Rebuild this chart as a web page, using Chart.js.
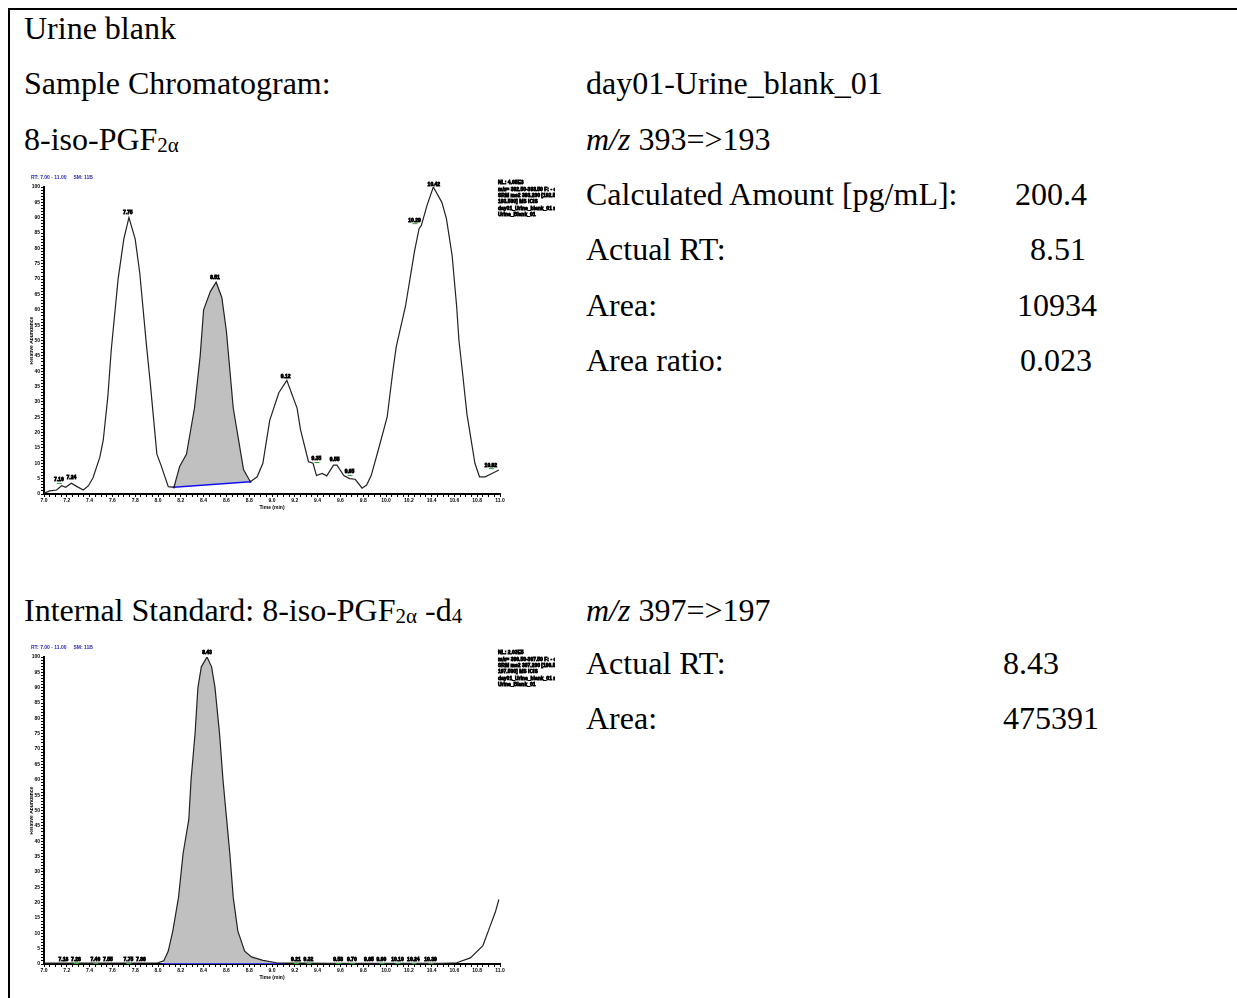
<!DOCTYPE html>
<html lang="en">
<head>
    <meta charset="UTF-8">
    <title>Urine blank - 8-iso-PGF2a</title>
    <script src="https://cdn.jsdelivr.net/npm/chart.js"></script>
    <style>
        body {
            margin: 0;
            width: 1237px;
            height: 998px;
            overflow: hidden;
            background: #fff;
            position: relative;
            font-family: 'Liberation Serif', 'Times New Roman', serif;
        }
        .frame {
            position: absolute;
            left: 8px;
            top: 8px;
            width: 1300px;
            height: 1100px;
            border: 2px solid #000;
        }
        .t {
            position: absolute;
            font-size: 32px;
            line-height: 36px;
            white-space: nowrap;
            color: #000;
        }
        .t sub {
            font-size: 21px;
            vertical-align: -2px;
            line-height: 0;
        }
        canvas {
            position: absolute;
        }
    </style>
</head>
<body>
    <div class="frame"></div>

    <div class="t" style="left:24px; top:10px">Urine blank</div>
    <div class="t" style="left:24px; top:65px">Sample Chromatogram:</div>
    <div class="t" style="left:586px; top:65px">day01-Urine_blank_01</div>
    <div class="t" style="left:24px; top:121px">8-iso-PGF<sub>2α</sub></div>
    <div class="t" style="left:586px; top:121px"><i>m/z</i> 393=&gt;193</div>
    <div class="t" style="left:586px; top:176px">Calculated Amount [pg/mL]:</div>
    <div class="t" style="left:1015px; top:176px">200.4</div>
    <div class="t" style="left:586px; top:231px">Actual RT:</div>
    <div class="t" style="left:1030px; top:231px">8.51</div>
    <div class="t" style="left:586px; top:287px">Area:</div>
    <div class="t" style="left:1017px; top:287px">10934</div>
    <div class="t" style="left:586px; top:342px">Area ratio:</div>
    <div class="t" style="left:1020px; top:342px">0.023</div>

    <div class="t" style="left:24px; top:592px">Internal Standard: 8-iso-PGF<sub>2α</sub> -d<sub>4</sub></div>
    <div class="t" style="left:586px; top:592px"><i>m/z</i> 397=&gt;197</div>
    <div class="t" style="left:586px; top:645px">Actual RT:</div>
    <div class="t" style="left:1003px; top:645px">8.43</div>
    <div class="t" style="left:586px; top:700px">Area:</div>
    <div class="t" style="left:1003px; top:700px">475391</div>

    <canvas id="sampleChart" width="525" height="345" style="left:30px; top:172px"></canvas>
    <canvas id="istdChart" width="525" height="345" style="left:30px; top:642px"></canvas>

    <script>
        // Sample trace, m/z 393=>193 (time in min, relative abundance in %)
        const sampleTime = [7.00, 7.05, 7.11, 7.155, 7.19, 7.24, 7.29, 7.345, 7.39, 7.43, 7.49, 7.52, 7.56, 7.59,
            7.65, 7.70, 7.745, 7.80, 7.84, 7.90, 7.93, 7.99, 8.03, 8.09, 8.14, 8.19, 8.25, 8.32, 8.37, 8.40,
            8.46, 8.51, 8.56, 8.60, 8.66, 8.75, 8.81, 8.87, 8.92, 8.98, 9.06, 9.13, 9.22, 9.25, 9.32, 9.36,
            9.39, 9.44, 9.48, 9.54, 9.57, 9.63, 9.68, 9.73, 9.79, 9.83, 9.87, 9.93, 10.01, 10.06, 10.09, 10.17,
            10.21, 10.25, 10.29, 10.31, 10.36, 10.415, 10.49, 10.53, 10.58, 10.62, 10.64, 10.67, 10.71, 10.78,
            10.82, 10.87, 10.93, 10.99];
        const sampleAbund = [0.3, 1.0, 1.3, 2.7, 2.2, 3.5, 2.4, 1.3, 2.7, 5.3, 12, 17.6, 31.7, 47,
            70, 83, 90, 83, 72, 48, 37, 13, 9, 2.4, 2.2, 9, 13, 28, 45, 60,
            66, 69, 64, 53, 28, 8, 4.0, 5.6, 10, 24, 33, 37, 28, 21, 10.5, 10,
            6, 6.7, 5.9, 9.4, 9.4, 6, 5, 4.8, 1.9, 2.9, 6, 14, 25, 40, 48, 61,
            70, 79, 86.4, 87.5, 94, 100, 95, 89.7, 77.7, 61, 50, 40, 26, 10,
            5.6, 5.6, 6.7, 7.8];
        const sampleIntegration = [8.14, 8.81];      // peak start / end (min)
        const sampleBaseline = [2.2, 4.0];           // baseline level at start / end (%)
        const samplePeakTimes = [7.13, 7.24, 7.735, 8.50, 9.12, 9.39, 9.55, 9.68, 10.25, 10.42, 10.92];
        const samplePeakLevels = [4.6, 5.3, 91.6, 70.4, 38.2, 11.4, 11.1, 7.2, 89.2, 100.9, 9.4];
        const samplePeakText = ['7.16', '7.24', '7.75', '8.51', '9.12', '9.35', '9.55', '9.65', '10.29', '10.42', '10.92'];
        const samplePeakTick = [true, false, false, false, false, true, false, true, true, false, true];
        const sampleInfo = ['NL: 4.05E3', 'm/z= 392.50-393.50 F: - c ESI', 'SRM ms2 393.200 [192.500-', '193.500] MS ICIS',
            'day01_Urine_blank_01 ms2', 'Urine_Blank_01'];

        // Internal standard trace, m/z 397=>197
        const istdTime = [7.00, 7.50, 8.00, 8.05, 8.09, 8.13, 8.18, 8.22, 8.27, 8.29, 8.325, 8.35, 8.38, 8.43,
            8.47, 8.50, 8.54, 8.57, 8.60, 8.63, 8.66, 8.70, 8.76, 8.82, 8.92, 9.04, 9.50, 10.00, 10.50, 10.62,
            10.74, 10.85, 10.91, 10.96, 10.99];
        const istdAbund = [0.3, 0.3, 0.4, 1, 4.2, 10.8, 21.7, 36, 47, 60, 75, 90, 96.8, 100,
            96.8, 90, 75, 60, 48, 36, 21.7, 10.8, 4.2, 2.3, 1.2, 0.4, 0.2, 0.2, 0.2, 0.4,
            2, 6, 12, 17, 21];
        const istdIntegration = [8.04, 9.10];
        const istdBaseline = [0, 0];
        const istdPeakTimes = [8.43, 7.17, 7.28, 7.45, 7.56, 7.74, 7.85, 9.21, 9.32, 9.58, 9.70, 9.85, 9.96, 10.10, 10.24, 10.39];
        const istdPeakLevels = [101.3, 1.3, 1.3, 1.3, 1.3, 1.3, 1.3, 1.3, 1.3, 1.3, 1.3, 1.3, 1.3, 1.3, 1.3, 1.3];
        const istdPeakText = ['8.43', '7.18', '7.28', '7.46', '7.55', '7.75', '7.86', '9.21', '9.32', '9.58', '9.70',
            '9.85', '9.96', '10.10', '10.24', '10.39'];
        const istdPeakTick = [false, false, true, true, false, true, false, true, true, true, true, false, true, true, true, true];
        const istdInfo = ['NL: 2.03E5', 'm/z= 396.50-397.50 F: - c ESI', 'SRM ms2 397.200 [196.500-', '197.500] MS ICIS',
            'day01_Urine_blank_01 ms2', 'Urine_Blank_01'];

        const headerText = 'RT: 7.00 - 11.00     SM: 11B';
        const xTitle = 'Time (min)';
        const yTitle = 'Relative Abundance';

        // tiny annotation text, like the instrument printout
        const annotPlugin = {
            id: 'annot',
            afterDraw(chart, args, opts) {
                const { ctx, scales: { x, y }, chartArea } = chart;
                ctx.save();
                ctx.font = 'bold 5px "Liberation Sans", Arial';
                ctx.fillStyle = '#2b2bb0';
                ctx.textBaseline = 'middle';
                ctx.textAlign = 'left';
                ctx.fillText(headerText, 1, 6);

                // heavy black text, the printout renders these as solid blobs
                ctx.fillStyle = '#000';
                ctx.strokeStyle = '#000';
                ctx.lineWidth = 0.8;
                opts.info.forEach((line, i) => {
                    ctx.strokeText(line, chartArea.right - 2, 11 + i * 6.3);
                    ctx.fillText(line, chartArea.right - 2, 11 + i * 6.3);
                });

                ctx.textAlign = 'center';
                opts.times.forEach((t, i) => {
                    const px = x.getPixelForValue(t);
                    const py = y.getPixelForValue(opts.levels[i]);
                    ctx.fillStyle = '#000';
                    ctx.strokeStyle = '#000';
                    ctx.lineWidth = 0.8;
                    ctx.strokeText(opts.text[i], px, py);
                    ctx.fillText(opts.text[i], px, py);
                    if (opts.tick[i]) {
                        ctx.strokeStyle = '#22aa22';
                        ctx.lineWidth = 1;
                        ctx.beginPath();
                        ctx.moveTo(px - 2, py + 3.5);
                        ctx.lineTo(px + 3, py + 3.5);
                        ctx.stroke();
                    }
                });

                ctx.fillStyle = '#000';
                ctx.fillText(xTitle, (chartArea.left + chartArea.right) / 2, chartArea.bottom + 14);
                ctx.translate(2, (chartArea.top + chartArea.bottom) / 2);
                ctx.rotate(-Math.PI / 2);
                ctx.fillText(yTitle, 0, 0);
                ctx.restore();
            }
        };

        function makeChart(id, time, abund, integ, base, peaks) {
            const trace = time.map((t, i) => ({ x: t, y: abund[i] }));
            const area = trace.filter(p => p.x >= integ[0] && p.x <= integ[1]);
            const baseline = integ.map((t, i) => ({ x: t, y: base[i] }));

            return new Chart(document.getElementById(id), {
                type: 'line',
                data: {
                    datasets: [
                        {
                            data: trace,
                            borderColor: '#222',
                            borderWidth: 1.2,
                            pointRadius: 0,
                            tension: 0,
                            fill: false,
                            order: 0
                        },
                        {
                            data: baseline,
                            borderColor: '#1010ff',
                            borderWidth: 1.5,
                            pointRadius: 1.5,
                            pointStyle: 'rect',
                            pointBackgroundColor: '#1010ff',
                            pointBorderWidth: 0,
                            fill: false,
                            order: 1
                        },
                        {
                            data: area,
                            borderWidth: 0,
                            pointRadius: 0,
                            tension: 0,
                            backgroundColor: '#c0c0c0',
                            fill: 1,
                            order: 2
                        }
                    ]
                },
                options: {
                    responsive: false,
                    animation: false,
                    devicePixelRatio: 1,
                    layout: { padding: { top: 15, right: 55, left: 0, bottom: 0 } },
                    plugins: {
                        legend: { display: false },
                        tooltip: { enabled: false },
                        annot: peaks
                    },
                    scales: {
                        x: {
                            type: 'linear',
                            min: 7,
                            max: 11,
                            afterFit: s => { s.height = 23; },
                            border: { color: '#000', width: 2 },
                            grid: { drawOnChartArea: false, tickLength: 3, color: '#000' },
                            ticks: {
                                stepSize: 0.05,
                                autoSkip: false,
                                maxRotation: 0,
                                padding: 1,
                                color: '#000',
                                font: { size: 5, weight: 'bold', family: 'Liberation Sans' },
                                callback: v => (Math.round(v * 100) % 20 === 0 ? v.toFixed(1) : '')
                            }
                        },
                        y: {
                            min: 0,
                            max: 100,
                            afterFit: s => { s.width = 14; },
                            border: { color: '#000', width: 2 },
                            grid: { drawOnChartArea: false, tickLength: 3, color: '#000' },
                            ticks: {
                                stepSize: 1,
                                autoSkip: false,
                                padding: 1,
                                color: '#000',
                                font: { size: 5, weight: 'bold', family: 'Liberation Sans' },
                                callback: v => (v % 5 === 0 ? v : '')
                            }
                        }
                    }
                },
                plugins: [annotPlugin]
            });
        }

        makeChart('sampleChart', sampleTime, sampleAbund, sampleIntegration, sampleBaseline,
            { times: samplePeakTimes, levels: samplePeakLevels, text: samplePeakText, tick: samplePeakTick, info: sampleInfo });
        makeChart('istdChart', istdTime, istdAbund, istdIntegration, istdBaseline,
            { times: istdPeakTimes, levels: istdPeakLevels, text: istdPeakText, tick: istdPeakTick, info: istdInfo });
    </script>
</body>
</html>
